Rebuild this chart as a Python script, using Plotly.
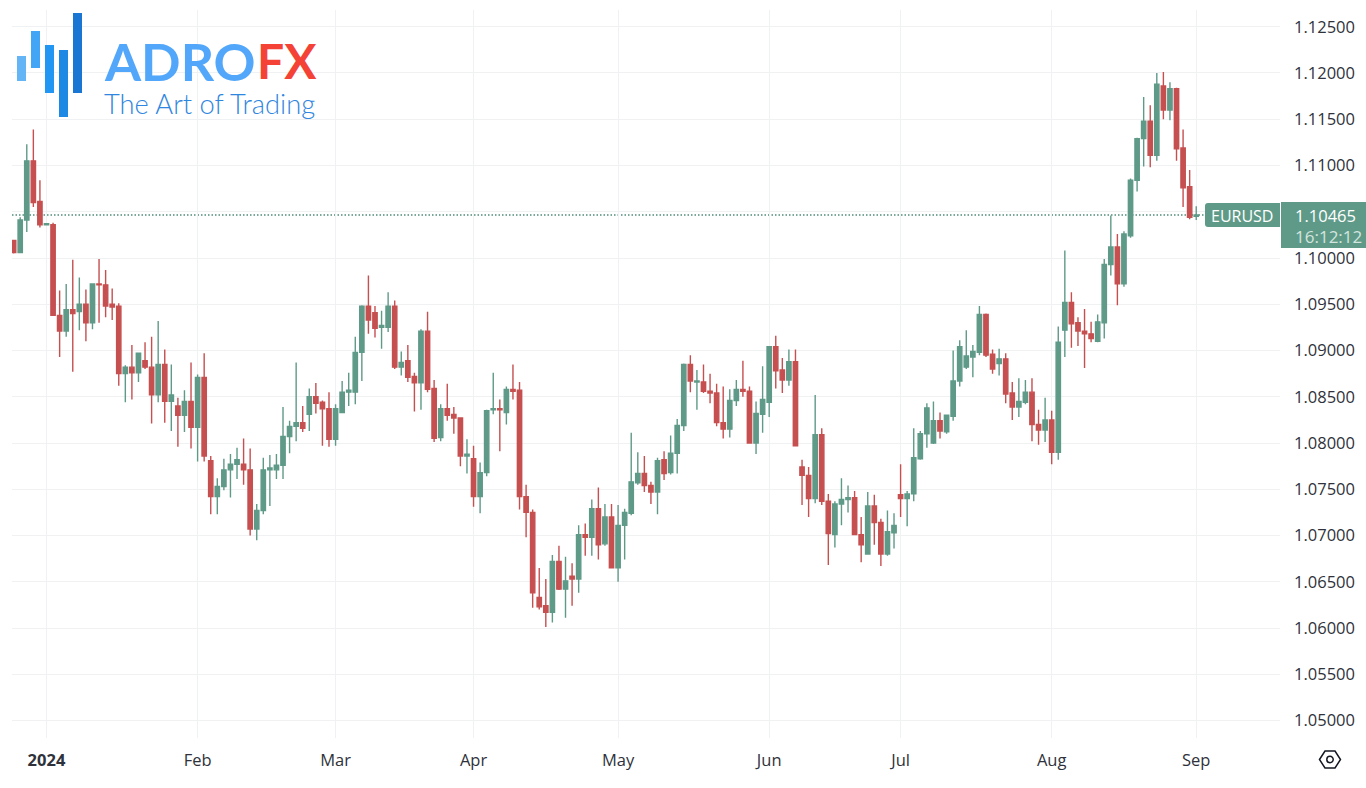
import pandas as pd
import plotly.graph_objects as go

dates = [d.strftime("%Y-%m-%d") for d in pd.bdate_range("2023-12-25", periods=181)]

opens = [
 1.1019,1.1006,1.1041,1.1105,1.1061,1.1036,1.1036,1.0938,1.0921,1.0944,
 1.0942,1.0950,1.0930,1.0972,1.0971,1.0950,1.0948,1.0875,1.0882,1.0876,
 1.0889,1.0882,1.0852,1.0885,1.0845,1.0840,1.0830,1.0845,1.0817,1.0871,
 1.0781,1.0742,1.0753,1.0771,1.0777,1.0777,1.0771,1.0707,1.0727,1.0771,
 1.0771,1.0776,1.0807,1.0818,1.0822,1.0831,1.0850,1.0844,1.0837,1.0804,
 1.0833,1.0855,1.0855,1.0898,1.0948,1.0941,1.0925,1.0925,1.0948,1.0882,
 1.0889,1.0872,1.0865,1.0921,1.0859,1.0806,1.0837,1.0831,1.0827,1.0786,
 1.0783,1.0742,1.0768,1.0836,1.0837,1.0833,1.0858,1.0857,1.0742,1.0725,
 1.0633,1.0624,1.0617,1.0672,1.0642,1.0656,1.0653,1.0701,1.0698,1.0729,
 1.0691,1.0720,1.0665,1.0711,1.0724,1.0757,1.0767,1.0754,1.0747,1.0782,
 1.0768,1.0789,1.0819,1.0885,1.0866,1.0866,1.0856,1.0854,1.0822,1.0815,
 1.0846,1.0858,1.0856,1.0800,1.0831,1.0844,1.0904,1.0879,1.0868,1.0888,
 1.0774,1.0765,1.0740,1.0809,1.0737,1.0701,1.0734,1.0739,1.0741,1.0701,
 1.0680,1.0732,1.0714,1.0680,1.0703,1.0744,1.0740,1.0745,1.0783,1.0810,
 1.0800,1.0824,1.0812,1.0829,1.0867,1.0882,1.0893,1.0898,1.0939,1.0896,
 1.0886,1.0891,1.0854,1.0839,1.0844,1.0855,1.0820,1.0814,1.0825,1.0790,
 1.0922,1.0952,1.0930,1.0921,1.0918,1.0910,1.0930,1.0993,1.1012,1.0972,
 1.1024,1.1084,1.1129,1.1148,1.1111,1.1186,1.1160,1.1183,1.1119,1.1077,
 1.1045,
]
highs = [
 1.1019,1.1044,1.1123,1.1139,1.1084,1.1037,1.1038,1.0965,1.0972,1.0998,
 1.0979,1.0966,1.0972,1.0999,1.0987,1.0967,1.0951,1.0884,1.0906,1.0897,
 1.0909,1.0915,1.0932,1.0901,1.0885,1.0849,1.0857,1.0887,1.0874,1.0897,
 1.0786,1.0762,1.0783,1.0788,1.0795,1.0805,1.0794,1.0734,1.0784,1.0787,
 1.0788,1.0839,1.0824,1.0887,1.0840,1.0859,1.0865,1.0846,1.0855,1.0842,
 1.0867,1.0876,1.0915,1.0949,1.0981,1.0948,1.0943,1.0963,1.0954,1.0899,
 1.0906,1.0876,1.0923,1.0942,1.0868,1.0842,1.0864,1.0839,1.0827,1.0804,
 1.0797,1.0779,1.0836,1.0876,1.0847,1.0861,1.0885,1.0866,1.0755,1.0728,
 1.0665,1.0653,1.0679,1.0689,1.0677,1.0670,1.0711,1.0713,1.0739,1.0752,
 1.0734,1.0734,1.0733,1.0729,1.0811,1.0790,1.0786,1.0758,1.0784,1.0791,
 1.0808,1.0826,1.0886,1.0895,1.0879,1.0885,1.0875,1.0864,1.0861,1.0858,
 1.0868,1.0889,1.0861,1.0845,1.0883,1.0905,1.0916,1.0892,1.0901,1.0901,
 1.0782,1.0774,1.0852,1.0816,1.0745,1.0737,1.0762,1.0754,1.0748,1.0720,
 1.0747,1.0744,1.0718,1.0727,1.0724,1.0777,1.0748,1.0816,1.0813,1.0843,
 1.0845,1.0833,1.0830,1.0900,1.0911,1.0922,1.0906,1.0948,1.0940,1.0901,
 1.0902,1.0897,1.0866,1.0870,1.0868,1.0870,1.0836,1.0849,1.0835,1.0926,
 1.1008,1.0963,1.0936,1.0945,1.0931,1.0939,1.0999,1.1046,1.1026,1.1029,
 1.1086,1.1130,1.1174,1.1165,1.1200,1.1201,1.1190,1.1184,1.1139,1.1095,
 1.1056,
]
lows = [
 1.1005,1.1006,1.1028,1.1055,1.1033,1.1036,1.0938,1.0893,1.0915,1.0877,
 1.0922,1.0910,1.0923,1.0930,1.0936,1.0933,1.0862,1.0844,1.0847,1.0866,
 1.0880,1.0821,1.0844,1.0822,1.0813,1.0796,1.0812,1.0794,1.0780,1.0780,
 1.0723,1.0723,1.0749,1.0741,1.0761,1.0755,1.0700,1.0695,1.0723,1.0732,
 1.0761,1.0761,1.0789,1.0802,1.0812,1.0813,1.0832,1.0797,1.0796,1.0797,
 1.0833,1.0840,1.0842,1.0867,1.0918,1.0914,1.0902,1.0920,1.0880,1.0873,
 1.0866,1.0834,1.0836,1.0855,1.0801,1.0802,1.0824,1.0810,1.0775,1.0767,
 1.0731,1.0724,1.0764,1.0831,1.0791,1.0820,1.0847,1.0728,1.0698,1.0622,
 1.0620,1.0601,1.0606,1.0641,1.0611,1.0624,1.0638,1.0678,1.0678,1.0674,
 1.0689,1.0665,1.0650,1.0674,1.0722,1.0755,1.0747,1.0734,1.0723,1.0760,
 1.0766,1.0767,1.0813,1.0855,1.0836,1.0854,1.0843,1.0818,1.0805,1.0806,
 1.0840,1.0850,1.0800,1.0788,1.0811,1.0828,1.0859,1.0854,1.0862,1.0797,
 1.0733,1.0720,1.0735,1.0733,1.0668,1.0687,1.0711,1.0725,1.0701,1.0671,
 1.0680,1.0690,1.0667,1.0678,1.0686,1.0720,1.0710,1.0737,1.0782,1.0795,
 1.0799,1.0805,1.0810,1.0824,1.0861,1.0880,1.0871,1.0895,1.0893,1.0875,
 1.0873,1.0843,1.0825,1.0828,1.0842,1.0802,1.0798,1.0801,1.0777,1.0782,
 1.0893,1.0903,1.0905,1.0881,1.0909,1.0909,1.0913,1.0981,1.0949,1.0969,
 1.1022,1.1072,1.1099,1.1098,1.1105,1.1150,1.1149,1.1105,1.1055,1.1042,
 1.1041,
]
closes = [
 1.1006,1.1041,1.1105,1.1060,1.1036,1.1037,1.0938,1.0921,1.0944,1.0940,
 1.0950,1.0930,1.0972,1.0971,1.0948,1.0947,1.0875,1.0882,1.0876,1.0897,
 1.0882,1.0852,1.0885,1.0845,1.0852,1.0830,1.0845,1.0817,1.0871,1.0786,
 1.0742,1.0753,1.0771,1.0777,1.0782,1.0771,1.0707,1.0727,1.0771,1.0773,
 1.0776,1.0807,1.0818,1.0822,1.0816,1.0850,1.0843,1.0837,1.0804,1.0837,
 1.0855,1.0857,1.0898,1.0948,1.0933,1.0924,1.0927,1.0948,1.0882,1.0887,
 1.0871,1.0865,1.0921,1.0858,1.0805,1.0837,1.0830,1.0827,1.0786,1.0788,
 1.0742,1.0768,1.0835,1.0837,1.0836,1.0858,1.0856,1.0742,1.0725,1.0638,
 1.0623,1.0617,1.0672,1.0642,1.0651,1.0653,1.0701,1.0698,1.0729,1.0690,
 1.0720,1.0665,1.0711,1.0725,1.0758,1.0767,1.0754,1.0747,1.0781,1.0767,
 1.0789,1.0819,1.0885,1.0867,1.0867,1.0856,1.0854,1.0822,1.0815,1.0846,
 1.0858,1.0856,1.0800,1.0832,1.0847,1.0904,1.0878,1.0868,1.0888,1.0797,
 1.0765,1.0740,1.0809,1.0737,1.0702,1.0734,1.0739,1.0741,1.0701,1.0690,
 1.0732,1.0714,1.0680,1.0704,1.0711,1.0740,1.0745,1.0784,1.0810,1.0838,
 1.0824,1.0813,1.0830,1.0867,1.0904,1.0894,1.0899,1.0939,1.0895,1.0880,
 1.0891,1.0853,1.0839,1.0845,1.0855,1.0820,1.0814,1.0825,1.0790,1.0909,
 1.0952,1.0929,1.0921,1.0918,1.0913,1.0931,1.0993,1.1012,1.0972,1.1026,
 1.1084,1.1129,1.1148,1.1111,1.1188,1.1160,1.1183,1.1118,1.1076,1.1044,
 1.10465,
]

price_ticks = [1.05, 1.055, 1.06, 1.065, 1.07, 1.075, 1.08, 1.085, 1.09, 1.095,
               1.10, 1.105, 1.11, 1.115, 1.12, 1.125]
price_labels = ["1.05000", "1.05500", "1.06000", "1.06500", "1.07000", "1.07500", "1.08000", "1.08500",
                "1.09000", "1.09500", "1.10000", "", "1.11000", "1.11500", "1.12000", "1.12500"]
month_ticks = ["2024-01-01", "2024-02-01", "2024-03-01", "2024-04-01", "2024-05-01",
               "2024-06-03", "2024-07-01", "2024-08-01", "2024-09-02"]
month_labels = ["<b>2024</b>", "Feb", "Mar", "Apr", "May", "Jun", "Jul", "Aug", "Sep"]
last_price = 1.10465
symbol = "EURUSD"
countdown = "16:12:12"

UP = "#5f9a88"
DOWN = "#c64f50"
GRID = "#f0f1f3"
TEXT = "#2f323a"
W, H = 1366, 788
L, R, T, B = 12, 1280, 10, 738


def px(x):
    return (x - L) / (R - L)


def py(y):
    return 1 - (y - T) / (B - T)


def rect(x0, y0, x1, y1, color):
    return dict(type="rect", xref="paper", yref="paper", x0=px(x0), x1=px(x1), y0=py(y0), y1=py(y1),
                fillcolor=color, line_width=0, layer="above")


def poly(points, **kw):
    d = "M " + " L ".join(f"{px(a):.5f},{py(b):.5f}" for a, b in points) + " Z"
    return dict(type="path", xref="paper", yref="paper", path=d, layer="above", **kw)


def rounded(x0, y0, x1, y1, r, color):
    d = (f"M {px(x0+r):.5f},{py(y0):.5f} L {px(x1):.5f},{py(y0):.5f} L {px(x1):.5f},{py(y1):.5f} "
         f"L {px(x0+r):.5f},{py(y1):.5f} Q {px(x0):.5f},{py(y1):.5f} {px(x0):.5f},{py(y1-r):.5f} "
         f"L {px(x0):.5f},{py(y0+r):.5f} Q {px(x0):.5f},{py(y0):.5f} {px(x0+r):.5f},{py(y0):.5f} Z")
    return dict(type="path", xref="paper", yref="paper", path=d, fillcolor=color, line_width=0, layer="above")


def label(x, y, text, size, color, family="Open Sans", anchor="center", weight=None):
    return dict(xref="paper", yref="paper", x=px(x), y=py(y), text=text, showarrow=False,
                xanchor=anchor, yanchor="middle", borderpad=0,
                font=dict(family=family, size=size, color=color, weight=weight))


fig = go.Figure(go.Candlestick(
    x=dates, open=opens, high=highs, low=lows, close=closes,
    increasing=dict(line=dict(color=UP, width=1.4), fillcolor=UP),
    decreasing=dict(line=dict(color=DOWN, width=1.4), fillcolor=DOWN),
    whiskerwidth=0,
))

shapes = [
    dict(type="line", xref="paper", yref="y", x0=0, x1=px(1205), y0=last_price, y1=last_price,
         line=dict(color="#4f8d7a", width=1.3, dash="1.5px,2px"), layer="below"),
    rounded(1205, 203, 1280, 227, 3, UP),
    rect(1281, 202, 1366, 248, UP),
    rect(17, 56, 26, 81, "#64b5f6"),
    rect(31, 31, 40, 68, "#42a5f5"),
    rect(45, 45, 54, 93, "#2196f3"),
    rect(59, 50, 68, 117, "#1e88e5"),
    rect(73, 13, 82, 93, "#1976d2"),
    poly([(1319.5, 759.5), (1325, 751), (1335, 751), (1340.5, 759.5), (1335, 768), (1325, 768)],
         line=dict(color="#131722", width=1.5)),
    dict(type="circle", xref="paper", yref="paper", x0=px(1326.8), x1=px(1333.2), y0=py(762.7), y1=py(756.3),
         line=dict(color="#131722", width=1.5), layer="above"),
]

annotations = [
    label(1242, 215.5, symbol, 16, "#ffffff"),
    label(1325, 215.5, f"{last_price:.5f}", 16.5, "#ffffff"),
    label(1328, 236, countdown, 17, "#d3e5df"),
    label(103, 61, "ADRO", 52, "#52a7fa", "Lato", "left", 700),
    label(256, 61, "FX", 48, "#f44336", "Lato", "left", 700),
    label(103, 104, "The Art of Trading", 27.3, "#2f86e0", "Lato", "left", 300),
]

fig.update_layout(
    width=W, height=H, autosize=False,
    margin=dict(l=L, r=W - R, t=T, b=H - B),
    paper_bgcolor="#ffffff", plot_bgcolor="#ffffff",
    showlegend=False, boxgap=0.06,
    shapes=shapes, annotations=annotations,
    xaxis=dict(
        type="category", categoryorder="array", categoryarray=dates,
        range=[-0.25, 192.75], rangeslider=dict(visible=False),
        tickmode="array", tickvals=month_ticks, ticktext=month_labels,
        showgrid=True, gridcolor=GRID, gridwidth=1, zeroline=False, showline=False,
        ticks="", ticklabelstandoff=10,
        tickfont=dict(family="Open Sans", size=16.5, color=TEXT),
    ),
    yaxis=dict(
        side="right", range=[1.04811, 1.12681],
        tickmode="array", tickvals=price_ticks, ticktext=price_labels,
        showgrid=True, gridcolor=GRID, gridwidth=1, zeroline=False, showline=False,
        ticks="", ticklabelstandoff=13,
        tickfont=dict(family="Open Sans", size=16.5, color=TEXT),
    ),
)

fig.write_html("out.html", config=dict(displayModeBar=False),
               post_script="document.body.style.margin='0';document.body.style.overflow='hidden';")
